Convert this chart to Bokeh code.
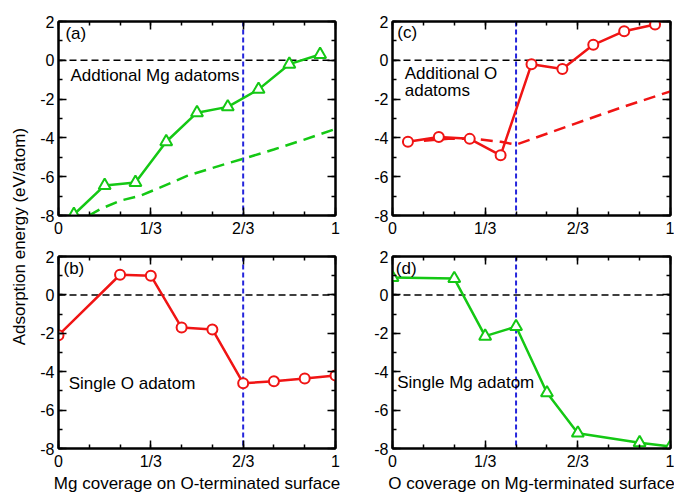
import math
from bokeh.plotting import figure
from bokeh.layouts import row, column
from bokeh.models import FixedTicker, CustomJSTickFormatter, LinearAxis, Span, Range1d
from bokeh.core.properties import value
from bokeh.embed import file_html
from bokeh.resources import INLINE

# ---------------- data ----------------
odd_x = [1/18, 3/18, 5/18, 7/18, 9/18, 11/18, 13/18, 15/18, 17/18]

# (a) Additional Mg adatoms
a_y = [-7.95, -6.45, -6.3, -4.2, -2.7, -2.4, -1.5, -0.2, 0.3]
a_dash_x = [0.11, 0.152, 0.224, 0.296, 0.368, 0.464, 0.56, 0.668, 0.777, 0.885, 1.0]
a_dash_y = [-8.0, -7.66, -7.23, -6.98, -6.55, -5.96, -5.53, -5.07, -4.6, -4.1, -3.54]

# (c) Additional O adatoms
c_y = [-4.2, -3.95, -4.05, -4.9, -0.2, -0.45, 0.8, 1.5, 1.85]
c_dash_x = [0.113, 0.2, 0.293, 0.39, 0.444, 0.65, 0.83, 1.0]
c_dash_y = [-4.15, -4.05, -4.05, -4.2, -4.35, -3.3, -2.4, -1.6]

# (b) Single O adatom
b_x = [0, 2/9, 3/9, 4/9, 5/9, 6/9, 7/9, 8/9, 1]
b_y = [-2.1, 1.05, 1.0, -1.7, -1.8, -4.6, -4.5, -4.35, -4.2]

# (d) Single Mg adatom
d_x = [0, 2/9, 3/9, 4/9, 5/9, 6/9, 8/9, 1]
d_y = [0.9, 0.85, -2.15, -1.65, -5.1, -7.2, -7.7, -7.9]

vline_left = 2/3
vline_right = 4/9

x_major = [0, 1/3, 2/3, 1]
x_tick_labels = ["0", "1/3", "2/3", "1"]
x_minor = [k/9 for k in range(10)]
y_major = [-8, -6, -4, -2, 0, 2]
y_minor = list(range(-8, 3))

FONT = "Liberation Sans"
GREEN = "#14c814"
RED = "#f01414"
BLUE = "#2424dc"


def make_panel(width, height, bl, br, bt, bb, xlabel=None):
    p = figure(width=width, height=height, x_range=Range1d(0, 1), y_range=Range1d(-8, 2),
               output_backend="svg", toolbar_location=None,
               min_border_left=bl, min_border_right=br, min_border_top=bt, min_border_bottom=bb)
    p.xgrid.visible = False
    p.ygrid.visible = False
    p.outline_line_color = "black"
    p.outline_line_width = 2
    p.outline_line_alpha = 1
    p.background_fill_color = "white"
    p.border_fill_color = "white"
    xt = FixedTicker(ticks=x_major, minor_ticks=x_minor)
    yt = FixedTicker(ticks=y_major, minor_ticks=y_minor)
    bottom = p.below[0]
    left = p.left[0]
    bottom.ticker = xt
    bottom.formatter = CustomJSTickFormatter(args=dict(labels=x_tick_labels),
                                             code="return labels[Math.round(tick*3)];")
    left.ticker = yt
    left.formatter = CustomJSTickFormatter(code="return tick.toFixed(0);")
    top = LinearAxis(ticker=xt, formatter=CustomJSTickFormatter(code="return '';"))
    right = LinearAxis(ticker=yt, formatter=CustomJSTickFormatter(code="return '';"))
    p.add_layout(top, "above")
    p.add_layout(right, "right")
    for ax in (bottom, left, top, right):
        ax.major_tick_in = 8
        ax.major_tick_out = 0
        ax.minor_tick_in = 4
        ax.minor_tick_out = 0
        ax.axis_line_width = 2
        ax.axis_line_color = "black"
        ax.major_tick_line_width = 1.5
        ax.minor_tick_line_width = 1.5
        ax.major_tick_line_color = "black"
        ax.minor_tick_line_color = "black"
        ax.major_label_text_font = FONT
        ax.major_label_text_font_size = "16px"
        ax.major_label_text_color = "black"
        ax.major_label_standoff = 4
    for ax in (top, right):
        ax.major_label_text_font_size = "0px"
        ax.major_label_standoff = 0
    if xlabel:
        bottom.axis_label = xlabel
        bottom.axis_label_text_font = FONT
        bottom.axis_label_text_font_size = "17px"
        bottom.axis_label_text_font_style = "normal"
        bottom.axis_label_text_color = "black"
        bottom.axis_label_standoff = 1
    p.add_layout(Span(location=0, dimension="width", line_color="black", line_width=1.5,
                      line_dash="7 4", level="underlay"))
    return p


def annotate(p, xs, ys, texts):
    p.text(x=xs, y=ys, text=texts, text_font=value(FONT), text_font_size="17px",
           text_baseline="middle", text_align="left", text_color="black")


LW_L, LW_R = 333, 311
H_T, H_B = 239, 256

pa = make_panel(LW_L, H_T, 28, 28, 21, 22)
pb = make_panel(LW_L, H_B, 28, 28, 17, 42, "Mg coverage on O-terminated surface")
pc = make_panel(LW_R, H_T, 29, 4, 21, 22)
pd = make_panel(LW_R, H_B, 29, 4, 17, 42, "O coverage on Mg-terminated surface")

# vertical blue dashed lines
for p, loc in ((pa, vline_left), (pb, vline_left), (pc, vline_right), (pd, vline_right)):
    p.add_layout(Span(location=loc, dimension="height", line_color=BLUE, line_width=2,
                      line_dash="5 3", level="underlay"))

# (a)
pa.line(a_dash_x, a_dash_y, line_color=GREEN, line_width=2.5, line_dash="12 7")
pa.line(odd_x, a_y, line_color=GREEN, line_width=2.5)
pa.scatter(odd_x, a_y, marker="triangle", size=12, line_color=GREEN, line_width=2,
           fill_color="white")
annotate(pa, [0.025, 0.043], [1.4, -0.8], ["(a)", "Addtional Mg adatoms"])

# (c)
pc.line(c_dash_x, c_dash_y, line_color=RED, line_width=2.5, line_dash="12 7")
pc.line(odd_x, c_y, line_color=RED, line_width=2.5)
pc.scatter(odd_x, c_y, marker="circle", size=10, line_color=RED, line_width=2,
           fill_color="white")
annotate(pc, [0.017, 0.044, 0.044], [1.45, -0.7, -1.55], ["(c)", "Additional O", "adatoms"])

# (b)
pb.line(b_x, b_y, line_color=RED, line_width=2.5)
pb.scatter(b_x, b_y, marker="circle", size=10, line_color=RED, line_width=2,
           fill_color="white")
annotate(pb, [0.018, 0.037], [1.35, -4.6], ["(b)", "Single O adatom"])

# (d)
pd.line(d_x, d_y, line_color=GREEN, line_width=2.5)
pd.scatter(d_x, d_y, marker="triangle", size=12, line_color=GREEN, line_width=2,
           fill_color="white")
annotate(pd, [0.012, 0.017], [1.35, -4.55], ["(d)", "Single Mg adatom"])

# shared y label
pl = figure(width=30, height=H_T + H_B, x_range=Range1d(0, 1), y_range=Range1d(0, 1),
            output_backend="svg", toolbar_location=None, min_border=0,
            x_axis_location=None, y_axis_location=None)
pl.xgrid.visible = False
pl.ygrid.visible = False
pl.outline_line_color = None
pl.text(x=[0.633], y=[0.523], text=["Adsorption energy (eV/atom)"], angle=math.pi / 2,
        text_font=value(FONT), text_font_size="17px", text_align="center",
        text_baseline="middle", text_color="black")

layout = row(pl, column(pa, pb), column(pc, pd))

open("out.html", "w").write(file_html(layout, INLINE))
